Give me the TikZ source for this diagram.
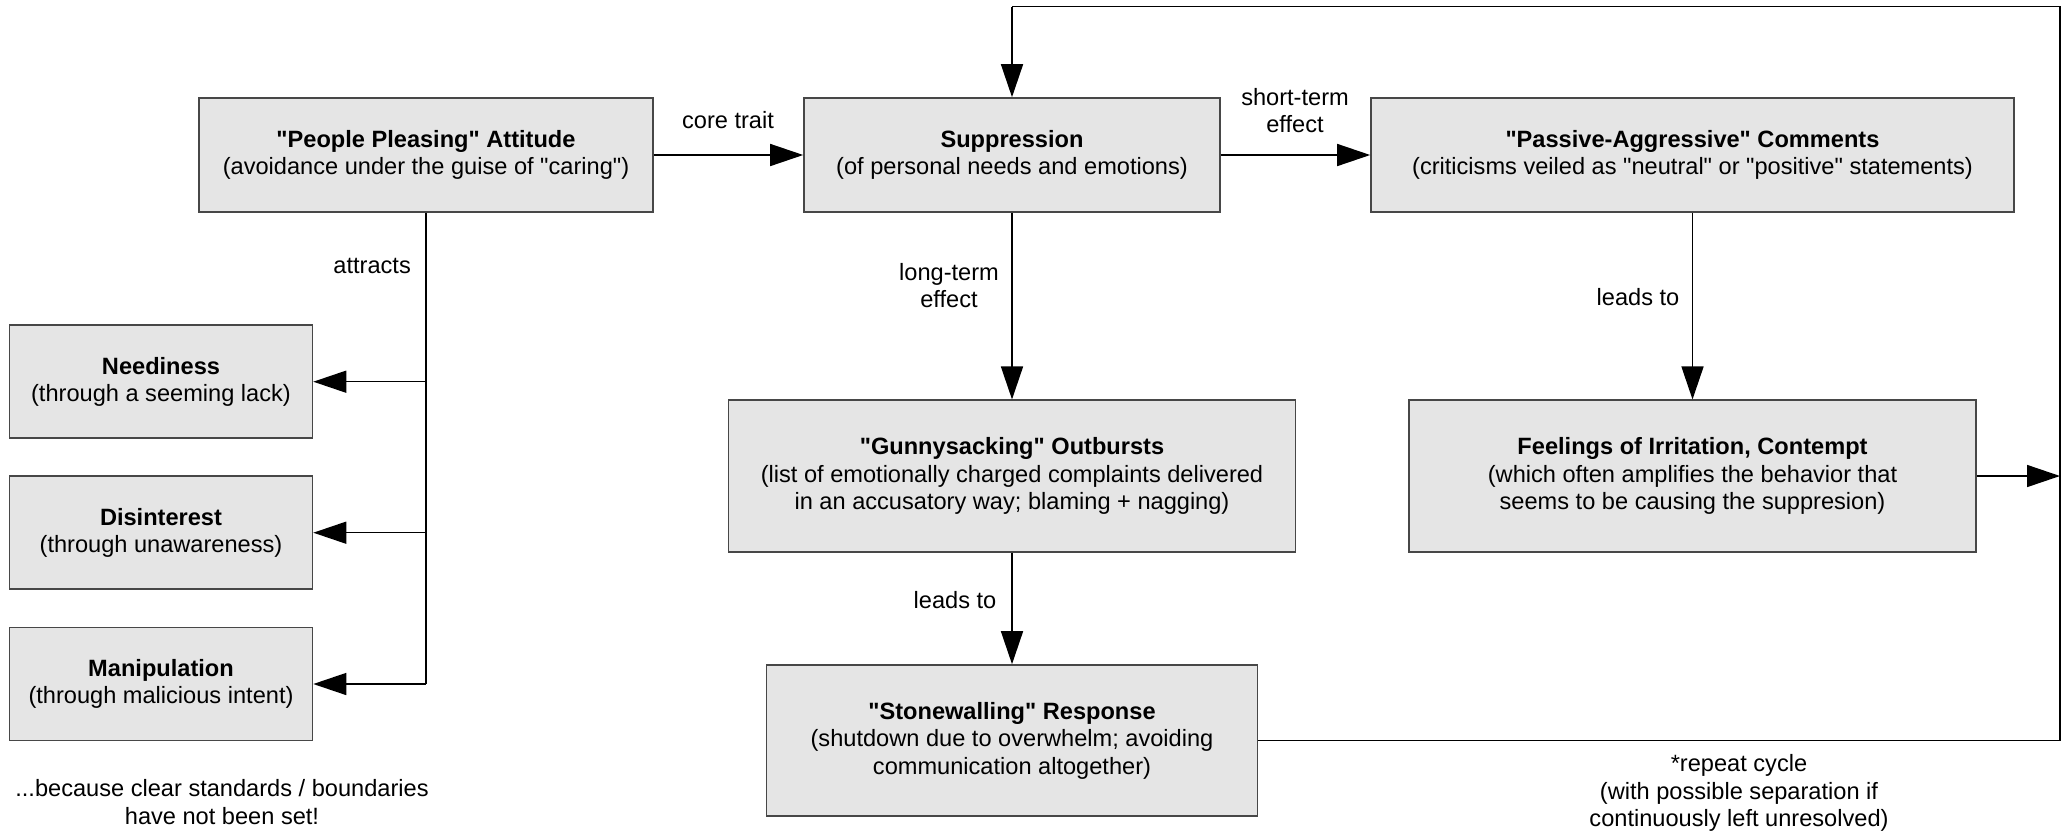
\documentclass[tikz,border=0pt]{standalone}
\usepackage{fontspec}
\setmainfont{Liberation Sans}[Ligatures=TeXOff]
\usetikzlibrary{arrows.meta,calc}
\begin{document}
\begin{tikzpicture}[x=1pt,y=-1pt,
  font=\fontsize{23.6}{27.5}\selectfont,
  box/.style={draw=black!72,fill=black!10,line width=1.6pt,inner sep=0pt,align=center,
    execute at begin node=\rule{0pt}{29pt}},
  conn/.style={draw=black,line width=1.5pt},
  arr/.style={conn,-{Triangle[length=33pt,width=22pt]}},
  lbl/.style={inner sep=0pt,align=center}]
\useasboundingbox (0,0) rectangle (2069,831);
\fill[white] (0,0) rectangle (2069,831);
% boxes
\node[box,minimum width=454pt,minimum height=114pt] (pp) at (426,155) {\textbf{"People Pleasing" Attitude}\\(avoidance under the guise of "caring")};
\node[box,minimum width=416pt,minimum height=114pt] (sup) at (1012,155) {\textbf{Suppression}\\(of personal needs and emotions)};
\node[box,minimum width=643pt,minimum height=114pt] (pa) at (1692.5,155) {\textbf{"Passive-Aggressive" Comments}\\(criticisms veiled as "neutral" or "positive" statements)};
\node[box,minimum width=303pt,minimum height=113pt] (need) at (161,381.7) {\textbf{Neediness}\\(through a seeming lack)};
\node[box,minimum width=303pt,minimum height=113pt] (dis) at (161,532.7) {\textbf{Disinterest}\\(through unawareness)};
\node[box,minimum width=303pt,minimum height=113pt] (man) at (161,684) {\textbf{Manipulation}\\(through malicious intent)};
\node[box,minimum width=567pt,minimum height=151.5pt] (gun) at (1012,476) {\textbf{"Gunnysacking" Outbursts}\\(list of emotionally charged complaints delivered\\in an accusatory way; blaming + nagging)};
\node[box,minimum width=567pt,minimum height=151.5pt] (feel) at (1692.5,476) {\textbf{Feelings of Irritation, Contempt}\\(which often amplifies the behavior that\\seems to be causing the suppresion)};
\node[box,minimum width=491pt,minimum height=151pt] (stone) at (1012,740.5) {\textbf{"Stonewalling" Response}\\(shutdown due to overwhelm; avoiding\\communication altogether)};
% loop coordinates
\coordinate (c1) at (2060,740.5);
\coordinate (c2) at (2060,6.6);
\coordinate (c3) at (1012,6.6);
% connectors
\draw[arr] (pp.east) -- (sup.west);
\draw[arr] (sup.east) -- (pa.west);
\draw[arr] (sup.south) -- (gun.north);
\draw[arr] (gun.south) -- (stone.north);
\draw[arr] (pa.south) -- (feel.north);
\draw[arr] (feel.east) -- (feel.east -| c1);
\draw[conn] (stone.east) -- (c1) -- (c2) -- (c3);
\draw[arr] (c3) -- (sup.north);
\draw[conn] (pp.south) -- (pp.south |- man.east);
\draw[arr] (pp.south |- need.east) -- (need.east);
\draw[arr] (pp.south |- dis.east) -- (dis.east);
\draw[arr] (pp.south |- man.east) -- (man.east);
% labels
\node[lbl] (l1) at (728,120) {core trait};
\node[lbl] (l2) at (1295,110.5) {short-term\\effect};
\node[lbl,anchor=east] (l3) at (411,266) {attracts};
\node[lbl] (l4) at (949,285.5) {long-term\\effect};
\node[lbl] (l5) at (955,600) {leads to};
\node[lbl] (l6) at (1638,297) {leads to};
\node[lbl] (l7) at (1739,793) {*repeat cycle\\(with possible separation if\\continuously left unresolved)};
\node[lbl] (l8) at (222,802) {...because clear standards / boundaries\\have not been set!};
\end{tikzpicture}
\end{document}
